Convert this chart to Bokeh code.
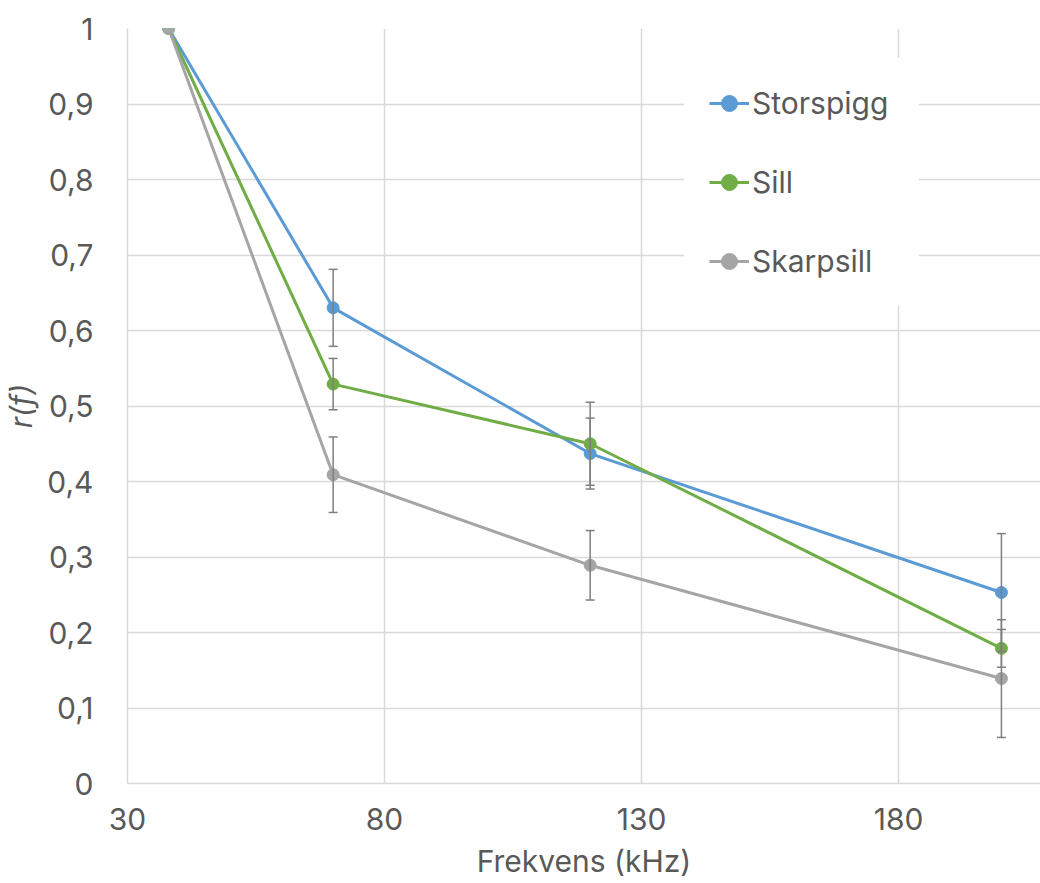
from bokeh.plotting import figure
from bokeh.models import (ColumnDataSource, Whisker, TeeHead, Legend, LegendItem,
                          FixedTicker, CustomJSTickFormatter, Range1d)
from bokeh.embed import file_html
from bokeh.resources import INLINE

# ---- data ----
freq = [38, 70, 120, 200]
series_names = ["Storspigg", "Sill", "Skarpsill"]
storspigg = [1.0, 0.63, 0.437, 0.253]
sill = [1.0, 0.529, 0.45, 0.179]
skarpsill = [1.0, 0.409, 0.289, 0.139]
storspigg_err = [0.0, 0.051, 0.047, 0.078]
sill_err = [0.0, 0.034, 0.055, 0.025]
skarpsill_err = [0.0, 0.05, 0.046, 0.078]
x_ticks = [30, 80, 130, 180]
y_ticks = [0, 0.1, 0.2, 0.3, 0.4, 0.5, 0.6, 0.7, 0.8, 0.9, 1.0]

colors = ["#5B9BD5", "#70AD47", "#A5A5A5"]
FONT = "Inter"
TXT = "#595959"
GRID = "#d9d9d9"

p = figure(width=1040, height=883, output_backend="svg", toolbar_location=None,
           x_range=Range1d(30, 207.6), y_range=Range1d(0, 1),
           min_border_left=127, min_border_right=0, min_border_top=28,
           min_border_bottom=100)
p.outline_line_color = None
p.background_fill_color = "white"

p.xaxis.ticker = FixedTicker(ticks=x_ticks)
p.yaxis.ticker = FixedTicker(ticks=y_ticks)
p.yaxis.formatter = CustomJSTickFormatter(code="""
    return (Math.round(tick*10)/10).toString().replace('.', ',');
""")
for ax in (p.xaxis, p.yaxis):
    ax.axis_line_color = GRID
    ax.axis_line_width = 1.5
    ax.major_tick_line_color = None
    ax.minor_tick_line_color = None
    ax.major_label_text_font = FONT
    ax.major_label_text_font_size = "30px"
    ax.major_label_text_color = TXT
    ax.axis_label_text_font = FONT
    ax.axis_label_text_font_size = "30px"
    ax.axis_label_text_color = TXT
    ax.axis_label_text_font_style = "normal"
p.yaxis.major_label_standoff = 28
p.xaxis.major_label_standoff = 18
p.xaxis.axis_label = "Frekvens (kHz)"
p.yaxis.axis_label = "r(f)"
p.yaxis.axis_label_text_font_style = "italic"
p.yaxis.axis_label_standoff = 5
p.xaxis.axis_label_standoff = 10

p.xgrid.grid_line_color = GRID
p.ygrid.grid_line_color = GRID
p.xgrid.grid_line_width = 1.5
p.ygrid.grid_line_width = 1.5

vals = [storspigg, sill, skarpsill]
errs = [storspigg_err, sill_err, skarpsill_err]

line_rs = []
for v, c in zip(vals, colors):
    src = ColumnDataSource(dict(x=freq, y=v))
    line_rs.append(p.line("x", "y", source=src, line_color=c, line_width=3))

for v, e in zip(vals, errs):
    xs = [f for f, ee in zip(freq, e) if ee > 0]
    up = [vv + ee for vv, ee in zip(v, e) if ee > 0]
    lo = [vv - ee for vv, ee in zip(v, e) if ee > 0]
    esrc = ColumnDataSource(dict(x=xs, upper=up, lower=lo))
    w = Whisker(source=esrc, base="x", upper="upper", lower="lower",
                line_color="#7f7f7f", line_width=1.5, level="glyph",
                upper_head=TeeHead(size=9, line_color="#7f7f7f", line_width=1.5),
                lower_head=TeeHead(size=9, line_color="#7f7f7f", line_width=1.5))
    p.add_layout(w)

marker_rs = []
for v, c in zip(vals, colors):
    src = ColumnDataSource(dict(x=freq, y=v))
    marker_rs.append(p.scatter("x", "y", source=src, marker="circle", size=12,
                               fill_color=c, line_color=c))

items = [LegendItem(label=n, renderers=[l, m]) for n, l, m in zip(series_names, line_rs, marker_rs)]
legend = Legend(items=items, location=(557, 477), orientation="vertical",
                padding=24, spacing=39, glyph_width=40, glyph_height=40,
                label_height=40, label_width=142, label_standoff=3,
                label_text_font=FONT, label_text_font_size="30px",
                label_text_color=TXT, border_line_color="white",
                border_line_width=1,
                background_fill_color="white", background_fill_alpha=1.0,
                margin=0)
p.add_layout(legend)

open("out.html", "w").write(file_html(p, INLINE))
